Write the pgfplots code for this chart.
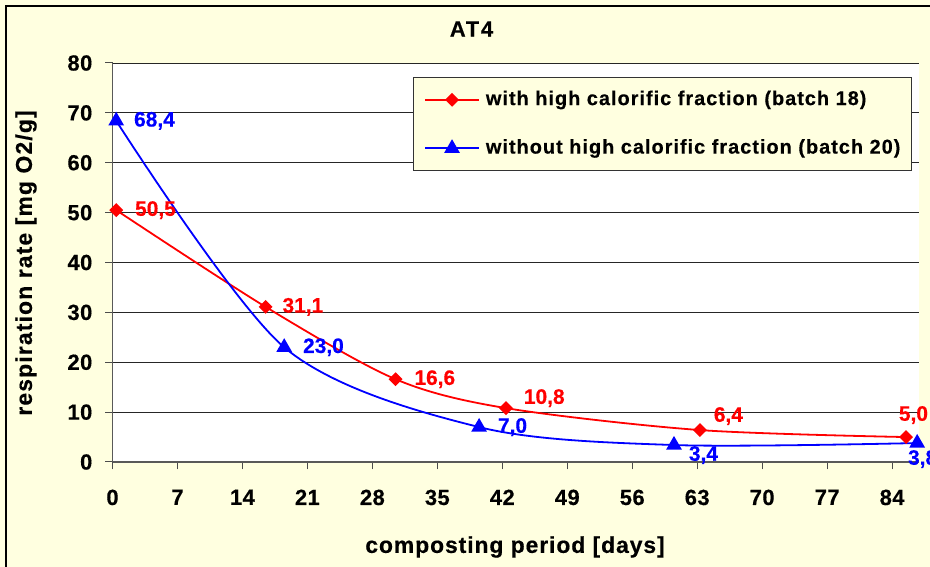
\documentclass[border=0pt]{standalone}
\usepackage{fontspec}
\usepackage{pgfplots}
\usepackage{pgfplotstable}
\pgfplotsset{compat=1.18}
\setmainfont{Liberation Sans}[FakeBold=0.4]
\newfontfamily\lsa{Liberation Sans}[LetterSpace=4,FakeBold=0.4]
\newfontfamily\lsl{Liberation Sans}[LetterSpace=5,FakeBold=0.4]
\newfontfamily\lsb{Liberation Sans}[LetterSpace=5,FakeBold=0.4]
\newfontfamily\lst{Liberation Sans}[LetterSpace=2,FakeBold=0.4]
\newfontfamily\lsh{Liberation Sans}[LetterSpace=8,FakeBold=0.4]
\definecolor{bgy}{RGB}{255,255,224}
\definecolor{myred}{RGB}{255,0,0}
\definecolor{myblue}{RGB}{0,0,255}

\pgfplotstableread{
x y lab dx dy
0.4 50.5 50,5 18 0
16.5 31.1 31,1 16 0
30.5 16.6 16,6 18 0
42.4 10.8 10,8 17 10
63.3 6.4 6,4 13 14
85.5 5.0 5,0 -8 22
}\redtab

\pgfplotstableread{
x y lab dx dy
0.4 68.4 68,4 17 0
18.5 23.0 23,0 18 0
39.5 7.0 7,0 18 0
60.5 3.4 3,4 14 -10
86.7 3.8 3,8 -10 -16
}\bluetab

\begin{document}
\begin{tikzpicture}[x=1bp,y=1bp]
\clip (0,0) rectangle (930,567);
\fill[bgy] (0,0) rectangle (930,567);
\draw[line width=1.6bp, black] (6,-10) -- (6,561) -- (940,561);
\begin{axis}[
  at={(112.5bp,105bp)}, anchor=south west,
  scale only axis, width=806.5bp, height=399bp,
  xmin=0, xmax=86.9, ymin=0, ymax=80,
  xtick={0,7,...,84}, ytick={0,10,...,80},
  axis x line*=bottom, axis y line*=left,
  axis line style={-, black!65, line width=1.2bp},
  tick align=outside, major tick length=7.5bp,
  tick style={black!70, line width=1bp},
  ymajorgrids, major grid style={black!85, line width=0.9bp},
  axis background/.style={fill=white},
  /pgf/number format/assume math mode=true,
  ticklabel style={font=\lst\bfseries\fontsize{22}{26}\selectfont, inner sep=0pt},
  yticklabel style={anchor=east, xshift=-12.5bp},
  xticklabel style={anchor=north, yshift=-20bp},
  clip=false,
  legend cell align=left,
  legend style={at={(0.9913,0.965)}, anchor=north east,
    fill=bgy, draw=black!80, line width=1.2bp,
    font=\lsl\bfseries\fontsize{20}{24}\selectfont,
    inner xsep=11bp, inner ysep=13bp, row sep=30bp, column sep=6bp,
    nodes={inner sep=0pt, text height=14.5bp, text depth=4bp}},
  legend image code/.code={
    \draw[mark repeat=2,mark phase=2,#1] plot coordinates {(0bp,0bp) (27bp,0bp) (54bp,0bp)};
  },
  point meta=explicit symbolic,
  visualization depends on={\thisrow{dx} \as \dx},
  visualization depends on={\thisrow{dy} \as \dy},
  nodes near coords,
  every node near coord/.append style={anchor=west, inner sep=0pt,
    xshift=\dx bp, yshift=\dy bp, font=\bfseries\fontsize{21}{25}\selectfont},
]
\addplot[myred, line width=1.8bp, smooth, tension=0.5,
  mark=square*, mark size=4bp, mark options={rotate=45, solid, fill=myred},
  every node near coord/.append style={text=myred}]
  table[x=x, y=y, meta=lab] {\redtab};
\addlegendentry{with high calorific fraction (batch 18)}
\addplot[myblue, line width=1.8bp, smooth, tension=0.5,
  mark=triangle*, mark size=7.3bp, mark options={solid, fill=myblue},
  every node near coord/.append style={text=myblue}]
  table[x=x, y=y, meta=lab] {\bluetab};
\addlegendentry{without high calorific fraction (batch 20)}
\end{axis}
\node[font=\lsh\bfseries\fontsize{22}{26}\selectfont] at (471.5,538) {AT4};
\node[font=\lsa\bfseries\fontsize{23}{27}\selectfont] at (515,20) {composting period [days]};
\node[font=\lsb\bfseries\fontsize{23}{27}\selectfont, rotate=90] at (26,304) {respiration rate [mg O2/g]};
\end{tikzpicture}
\end{document}
